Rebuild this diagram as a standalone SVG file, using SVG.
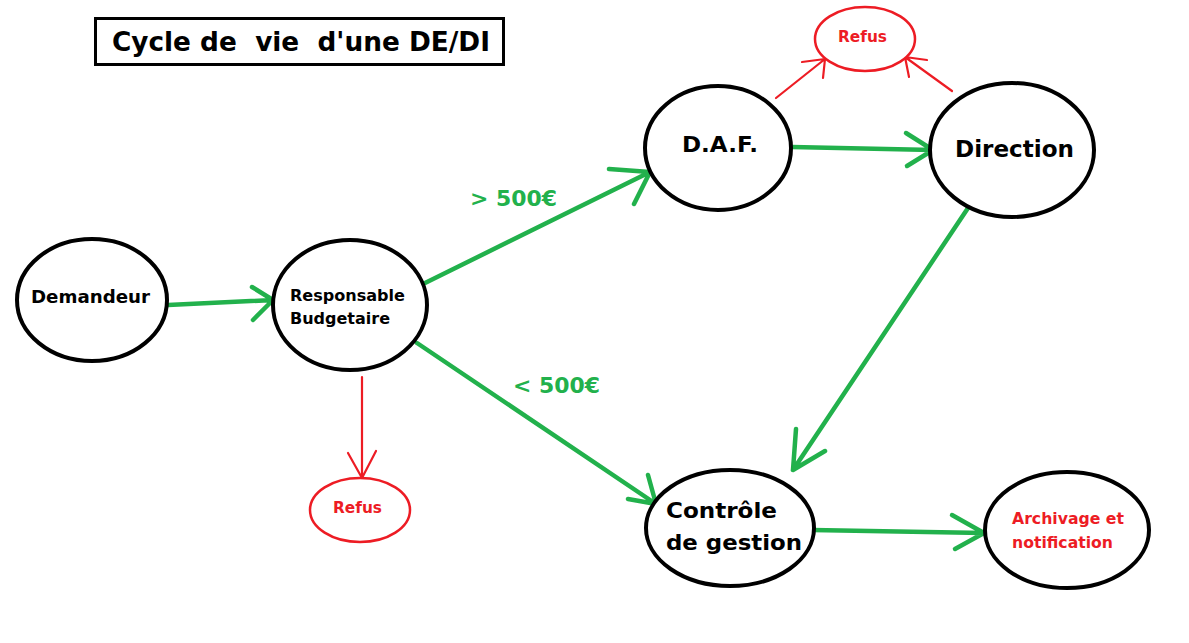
<svg xmlns="http://www.w3.org/2000/svg" width="1189" height="643" viewBox="0 0 1189 643">
<style>
text{font-family:"DejaVu Sans","Liberation Sans",sans-serif;font-weight:bold;white-space:pre}
.node{fill:#fff;stroke:#000;stroke-width:4}
.rnode{fill:#fff;stroke:#ed1c24;stroke-width:2.5}
.g{fill:none;stroke:#22b14c;stroke-width:4.5;stroke-linecap:round;stroke-linejoin:round}
.r{fill:none;stroke:#ed1c24;stroke-width:2.2;stroke-linecap:round;stroke-linejoin:round}
.blk{fill:#000}
.red{fill:#ed1c24}
.grn{fill:#22b14c}
</style>
<rect width="1189" height="643" fill="#fff"/>
<g id="title">
<rect x="95.5" y="18.5" width="408" height="46" fill="#fff" stroke="#000" stroke-width="3"/>
<text x="112" y="51" font-size="26" class="blk" textLength="378" lengthAdjust="spacingAndGlyphs">Cycle de  vie  d'une DE/DI</text>
</g>
<g id="connectors">
<path class="g" d="M168 305 L273 300 M252 287 L273 300 L253 320"/>
<path class="g" d="M425 283 L650 172 M609 169 L650 172 L634 204"/>
<path class="g" d="M792 147 L933 150 M906 133 L933 150 L907 166"/>
<path class="g" d="M968 208 L793 470 M796 429 L793 470 L825 451"/>
<path class="g" d="M417 343 L656 504 M628 499 L656 504 L648 475"/>
<path class="g" d="M812 530 L984 533 M952 515 L984 533 L955 549"/>
<path class="r" d="M362 377 L362 478 M348 453 L362 478 L376 451"/>
<path class="r" d="M776 98 L825 59 M802 62 L825 59 L823 78"/>
<path class="r" d="M952 91 L905 57 M927 60 L905 57 L909 77"/>
<text x="470" y="206" font-size="21" class="grn" textLength="87" lengthAdjust="spacingAndGlyphs">&gt; 500€</text>
<text x="513" y="393" font-size="21" class="grn" textLength="87" lengthAdjust="spacingAndGlyphs">&lt; 500€</text>
</g>
<g id="demandeur">
<ellipse class="node" cx="92" cy="300" rx="75" ry="61"/>
<text x="31" y="303" font-size="18" class="blk" textLength="119" lengthAdjust="spacingAndGlyphs">Demandeur</text>
</g>
<g id="responsable">
<ellipse class="node" cx="350" cy="305" rx="77" ry="65"/>
<text x="290" y="301" font-size="16" class="blk" textLength="115" lengthAdjust="spacingAndGlyphs">Responsable</text>
<text x="290" y="324" font-size="16" class="blk" textLength="100" lengthAdjust="spacingAndGlyphs">Budgetaire</text>
</g>
<g id="daf">
<ellipse class="node" cx="718" cy="148" rx="73" ry="62"/>
<text x="682" y="152" font-size="22" class="blk" textLength="76" lengthAdjust="spacingAndGlyphs">D.A.F.</text>
</g>
<g id="direction">
<ellipse class="node" cx="1012" cy="150" rx="82" ry="67"/>
<text x="955" y="157" font-size="23" class="blk" textLength="119" lengthAdjust="spacingAndGlyphs">Direction</text>
</g>
<g id="refus-top">
<ellipse class="rnode" cx="865" cy="39" rx="50" ry="32"/>
<text x="838" y="42" font-size="15" class="red" textLength="49" lengthAdjust="spacingAndGlyphs">Refus</text>
</g>
<g id="refus-bottom">
<ellipse class="rnode" cx="360" cy="510" rx="50" ry="32"/>
<text x="333" y="513" font-size="15" class="red" textLength="49" lengthAdjust="spacingAndGlyphs">Refus</text>
</g>
<g id="controle">
<ellipse class="node" cx="730" cy="528" rx="84" ry="58"/>
<text x="666" y="518" font-size="22" class="blk" textLength="111" lengthAdjust="spacingAndGlyphs">Contrôle</text>
<text x="666" y="550" font-size="22" class="blk" textLength="136" lengthAdjust="spacingAndGlyphs">de gestion</text>
</g>
<g id="archivage">
<ellipse class="node" cx="1067" cy="530" rx="82" ry="58"/>
<text x="1012" y="524" font-size="15" class="red" textLength="112" lengthAdjust="spacingAndGlyphs">Archivage et</text>
<text x="1012" y="548" font-size="15" class="red" textLength="101" lengthAdjust="spacingAndGlyphs">notification</text>
</g>
</svg>
